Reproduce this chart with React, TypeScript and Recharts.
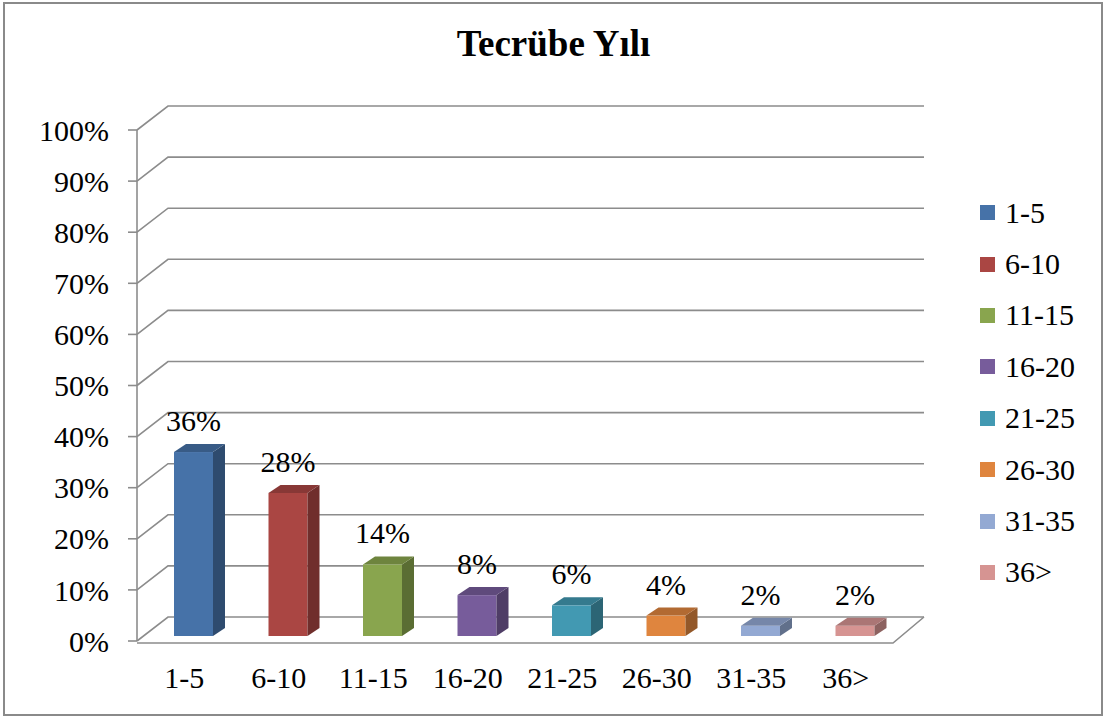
import { BarChart, Bar, XAxis, YAxis, CartesianGrid, Legend, LabelList } from "recharts";

const categories = ["1-5", "6-10", "11-15", "16-20", "21-25", "26-30", "31-35", "36>"];
const shares = [36, 28, 14, 8, 6, 4, 2, 2];
const yTicks = [0, 10, 20, 30, 40, 50, 60, 70, 80, 90, 100];

const COLORS = ["#4672A8", "#AA4643", "#89A54E", "#775C9B", "#4299B2", "#DF853E", "#93A9D3", "#D69492"];
const SERIF = "'Liberation Serif', 'Times New Roman', serif";
const GRID = "#8c8c8c";

// depth of the 3d box
const DX = 31;
const DY = -24;
const BAR_DX = 12;
const BAR_DY = -8;
const PLOT_BOTTOM = 641;

const data = categories.map((c, i) => ({ name: c, value: shares[i] }));

function shade(hex: string, k: number): string {
  const n = parseInt(hex.slice(1), 16);
  const r = Math.round(((n >> 16) & 255) * k);
  const g = Math.round(((n >> 8) & 255) * k);
  const b = Math.round((n & 255) * k);
  return `rgb(${r},${g},${b})`;
}

function GridLine(p: any) {
  const { x1, x2, y1 } = p;
  const back = `M${x1},${y1} L${x1 + DX},${y1 + DY} L${x2 + DX},${y1 + DY}`;
  const isFloor = Math.abs(y1 - PLOT_BOTTOM) < 1;
  return (
    <g key={p.key}>
      <path d={back} fill="none" stroke={GRID} strokeWidth={1.6} />
      {isFloor && (
        <path
          d={`M${x1},${y1 + 2} L${x2},${y1 + 2} L${x2 + DX},${y1 + DY}`}
          fill="none"
          stroke={GRID}
          strokeWidth={1.6}
        />
      )}
    </g>
  );
}

function Box3D(props: any) {
  const { x, y, width, height, index } = props;
  if (height == null || width == null) return null;
  const c = COLORS[index % COLORS.length];
  const fx = x + 9;
  const fy = y - 5;
  const w = width;
  const h = height;
  const top = `M${fx},${fy} L${fx + BAR_DX},${fy + BAR_DY} L${fx + w + BAR_DX},${fy + BAR_DY} L${fx + w},${fy} Z`;
  const side = `M${fx + w},${fy} L${fx + w + BAR_DX},${fy + BAR_DY} L${fx + w + BAR_DX},${fy + h + BAR_DY} L${fx + w},${fy + h} Z`;
  return (
    <g>
      <rect x={fx} y={fy} width={w} height={h} fill={c} />
      <path d={side} fill={shade(c, 0.66)} />
      <path d={top} fill={shade(c, 0.8)} />
    </g>
  );
}

function ValueLabel(props: any) {
  const { x, y, width, value } = props;
  return (
    <text
      x={x + width / 2 + 9}
      y={y - 26}
      textAnchor="middle"
      fontFamily={SERIF}
      fontSize={30}
      fill="#000"
    >
      {`${value}%`}
    </text>
  );
}

function LegendBox() {
  return (
    <div style={{ fontFamily: SERIF, fontSize: 30, color: "#000" }}>
      {categories.map((c, i) => (
        <div key={c} style={{ height: 51.4, display: "flex", alignItems: "center" }}>
          <span
            style={{
              display: "inline-block",
              width: 15,
              height: 15,
              background: COLORS[i],
              marginRight: 10,
            }}
          />
          <span style={{ lineHeight: "30px" }}>{c}</span>
        </div>
      ))}
    </div>
  );
}

export default function App() {
  return (
    <div style={{ position: "absolute", left: 0, top: 0, width: 1107, height: 720, background: "#fff" }}>
      <div
        style={{
          position: "absolute",
          left: 3,
          top: 2,
          width: 1100,
          height: 714,
          border: "2px solid #8a8a8a",
          boxSizing: "border-box",
        }}
      />
      <div
        style={{
          position: "absolute",
          left: 0,
          width: 1107,
          top: 22,
          textAlign: "center",
          fontFamily: SERIF,
          fontWeight: "bold",
          fontSize: 37,
          lineHeight: "44px",
        }}
      >
        Tecrübe Yılı
      </div>
      <BarChart width={1107} height={720} data={data} margin={{ top: 130, right: 214, bottom: 39, left: 37 }}>
        <CartesianGrid vertical={false} horizontal={GridLine} />
        <XAxis
          dataKey="name"
          height={40}
          axisLine={false}
          tickLine={false}
          tickSize={0}
          tickMargin={26}
          interval={0}
          tick={{ fill: "#000", fontSize: 30, fontFamily: SERIF }}
        />
        <YAxis
          width={100}
          domain={[0, 100]}
          ticks={yTicks}
          interval={0}
          tickFormatter={(v) => `${v}%`}
          axisLine={{ stroke: GRID, strokeWidth: 1.6 }}
          tickLine={{ stroke: GRID, strokeWidth: 1.6 }}
          tickSize={9}
          tickMargin={19}
          tick={{ fill: "#000", fontSize: 30, fontFamily: SERIF }}
        />
        <Legend
          verticalAlign="middle"
          align="center"
          layout="vertical"
          content={() => <LegendBox />}
          wrapperStyle={{ left: 980, top: 187, width: 125 }}
        />
        <Bar dataKey="value" barSize={39} shape={Box3D} isAnimationActive={false}>
          <LabelList dataKey="value" content={ValueLabel} />
        </Bar>
      </BarChart>
    </div>
  );
}
